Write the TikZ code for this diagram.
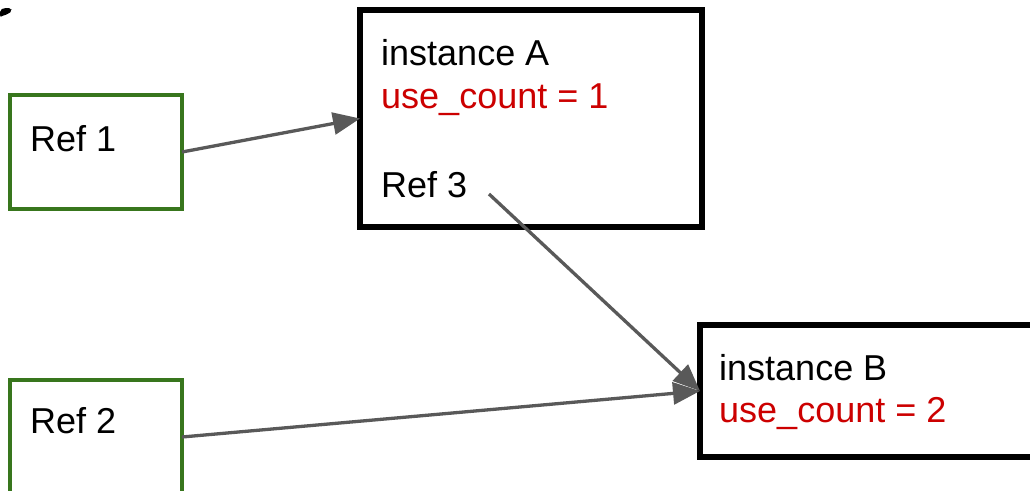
\documentclass[tikz,border=0pt]{standalone}
\usepackage{fontspec}
\setmainfont{Liberation Sans}
\usetikzlibrary{arrows.meta}
\definecolor{refgreen}{HTML}{38761D}
\definecolor{cntred}{HTML}{CC0000}
\definecolor{linkgray}{HTML}{595959}
\tikzset{
  refbox/.style={draw=refgreen, line width=3.8pt, fill=white, rectangle,
    outer sep=0pt, inner sep=0pt, anchor=north west},
  instbox/.style={draw=black, line width=5.5pt, fill=white, rectangle,
    outer sep=0pt, inner sep=0pt, anchor=north west},
  label/.style={inner sep=0pt, anchor=base west, font=\fontsize{36}{43}\selectfont},
  count/.style={label, text=cntred},
  link/.style={draw=linkgray, line width=3.3pt,
    -{Triangle[length=27pt, width=22pt]}}
}
\begin{document}
\begin{tikzpicture}[x=1pt, y=-1pt]
  \useasboundingbox (0,0) rectangle (1030,490);
  \clip (0,0) rectangle (1030,490);
  \fill[white] (0,0) rectangle (1030,490);

  % fragment of a glyph at the top-left edge
  \fill[black, rounded corners=2pt] (0,10) -- (4,8) -- (11,8) -- (12,11)
    -- (8,14) -- (2,16) -- (0,17) -- cycle;

  % reference holders
  \node[refbox, minimum width=172pt, minimum height=114pt] (ref1) at (10,95) {};
  \node[refbox, minimum width=172pt, minimum height=114pt] (ref2) at (10,380) {};
  \node[label] (ref1txt) at (30,151) {Ref 1};
  \node[label] (ref2txt) at (30,433) {Ref 2};

  % instances
  \node[instbox, minimum width=342pt, minimum height=217pt] (insA) at (360,10) {};
  \node[instbox, minimum width=400pt, minimum height=132pt] (insB) at (700,325) {};
  \node[label] (nameA) at (381,65) {instance A};
  \node[count] (cntA) at (381,108) {use\_count = 1};
  \node[label] (ref3txt) at (381,197) {Ref 3};
  \node[label] (nameB) at (719,380) {instance B};
  \node[count] (cntB) at (719,422) {use\_count = 2};

  % references
  \coordinate (ref3out) at (489,194);
  \draw[link] (ref1.east) -- (insA.west);
  \draw[link] (ref3out) -- (insB.west);
  \draw[link] (ref2.east) -- (insB.west);
\end{tikzpicture}
\end{document}
